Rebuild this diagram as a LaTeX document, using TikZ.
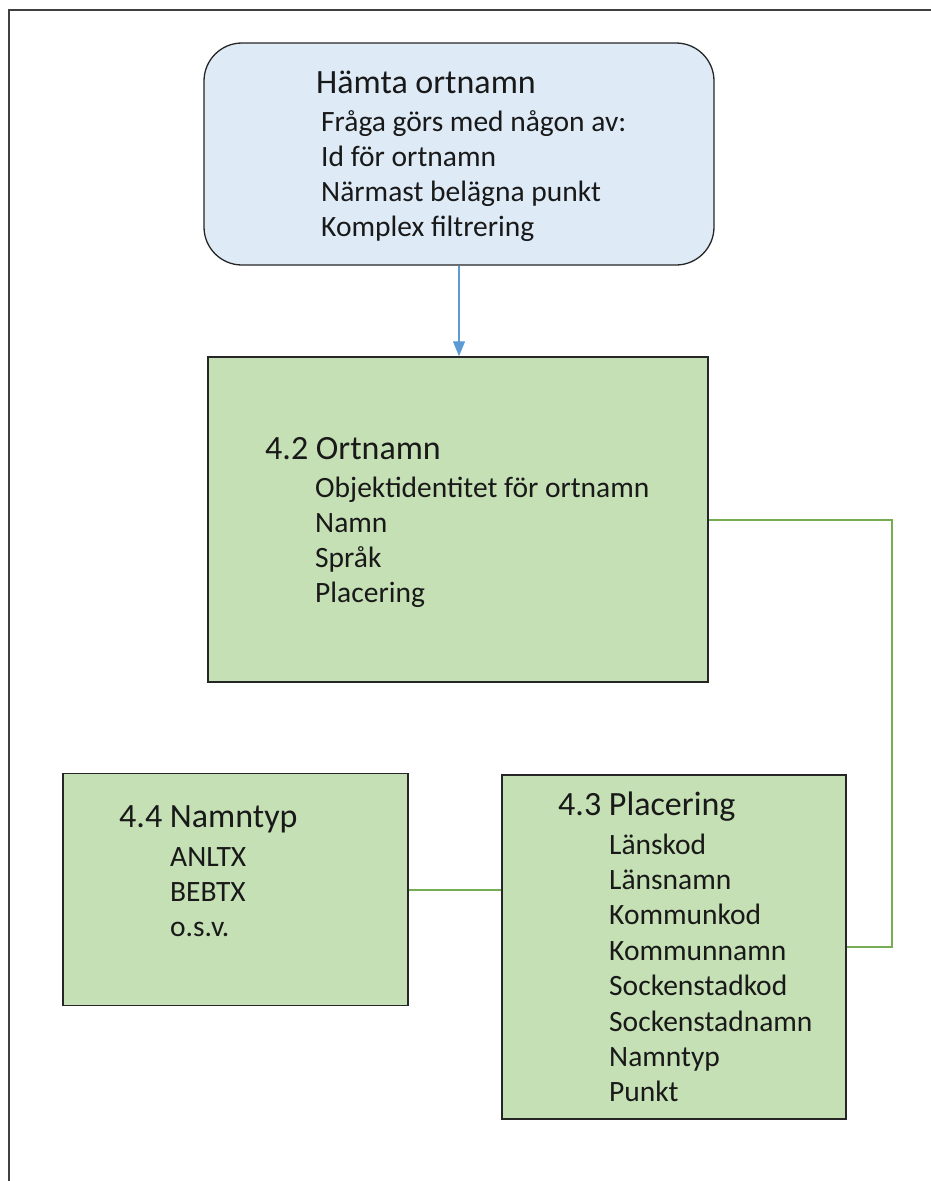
\documentclass[tikz,border=0pt]{standalone}
\usepackage{fontspec}
\setmainfont{Carlito}
\usetikzlibrary{positioning,arrows.meta}
\definecolor{queryblue}{RGB}{222,235,247}
\definecolor{boxgreen}{RGB}{197,224,180}
\definecolor{linkgreen}{RGB}{118,172,84}
\definecolor{arrowblue}{RGB}{91,155,213}
\definecolor{framegray}{RGB}{64,64,64}
\tikzset
{
    querybox/.style = {rectangle, rounded corners=38pt, draw=black!85, line width=1.3pt, fill=queryblue},
    classbox/.style = {rectangle, draw=black!85, line width=1.5pt, fill=boxgreen},
    heading/.style  = {anchor=base west, inner sep=0pt, text=black!90, font=\fontsize{34}{40}\selectfont},
    item/.style     = {anchor=base west, inner sep=0pt, text=black!90, font=\fontsize{29.5}{35}\selectfont},
    link/.style     = {draw=linkgreen, line width=2pt},
    arrow/.style    = {draw=arrowblue, line width=1.3pt, -{Triangle[length=15pt,width=12pt]}}
}

\begin{document}
\begin{tikzpicture}[x=1pt, y=-1pt]
\useasboundingbox (0,0) rectangle (931,1181);
% page frame
\draw[framegray, line width=2.5pt] (9,1181) -- (9,10) -- (931,10);
% boxes
\node(hamta) [querybox, minimum width=510pt, minimum height=222pt] at (459,154) {};
\node(ortnamn) [classbox, minimum width=500pt, minimum height=325pt] at (458,519.5) {};
\node(namntyp) [classbox, minimum width=345pt, minimum height=232pt] at (235.5,889.5) {};
\node(placering) [classbox, minimum width=344pt, minimum height=344pt] at (674,947) {};
% texts
\node(hamta-t) [heading] at (316,93) {Hämta ortnamn};
\foreach \txt [count=\i from 0] in {Fråga görs med någon av:, Id för ortnamn, Närmast belägna punkt, Komplex filtrering}
    \node(hamta-\i) [item] at (321,{131+35.3*\i}) {\txt};
\node(ortnamn-t) [heading] at (265,459) {4.2 Ortnamn};
\foreach \txt [count=\i from 0] in {Objektidentitet för ortnamn, Namn, Språk, Placering}
    \node(ortnamn-\i) [item] at (315,{497+35.1*\i}) {\txt};
\node(namntyp-t) [heading] at (119,827) {4.4 Namntyp};
\foreach \txt [count=\i from 0] in {ANLTX, BEBTX, o.s.v.}
    \node(namntyp-\i) [item] at (170,{866+35*\i}) {\txt};
\node(placering-t) [heading] at (558,815) {4.3 Placering};
\foreach \txt [count=\i from 0] in {Länskod, Länsnamn, Kommunkod, Kommunnamn, Sockenstadkod, Sockenstadnamn, Namntyp, Punkt}
    \node(placering-\i) [item] at (609,{854+35.4*\i}) {\txt};
% connectors
\draw[arrow] (hamta.south) -- (hamta.south |- ortnamn.north);
\draw[link] (ortnamn.east) -- ++(183,0) |- (placering.east);
\draw[link] (namntyp.east) -- (namntyp.east -| placering.west);
\end{tikzpicture}
\end{document}
